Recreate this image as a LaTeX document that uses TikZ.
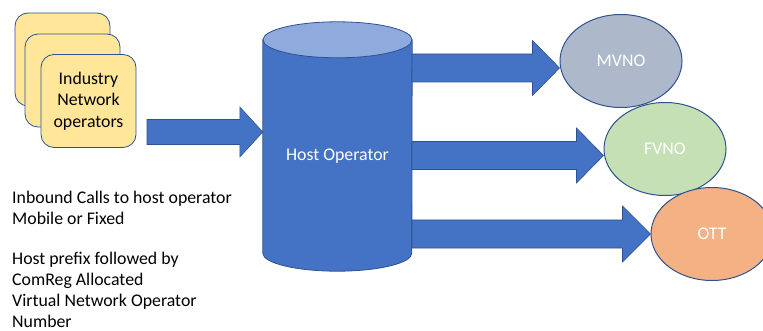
\documentclass[tikz,border=0pt]{standalone}
\usepackage{fontspec}
\setmainfont{Carlito}
\usetikzlibrary{calc,shapes.geometric}

% block arrow: from, to, body half height, head half height, head length
\newcommand{\blockarrow}[5]{%
  \filldraw[barrow] let \p1=(#1), \p2=(#2) in
    (\x1,\y1+#3) -- (\x2-#5,\y1+#3) -- (\x2-#5,\y1+#4) -- (\x2,\y1)
    -- (\x2-#5,\y1-#4) -- (\x2-#5,\y1-#3) -- (\x1,\y1-#3) -- cycle;}

\begin{document}
\begin{tikzpicture}[x=1pt, y=-1pt, every node/.style={font=\fontsize{17.8}{21.5}\selectfont}]
  % -----------------------------
  % SETTINGS
  % -----------------------------
  \def\rx{74.5pt}   % cylinder end radius x
  \def\ry{18pt}     % cylinder end radius y

  % -----------------------------
  % STYLES
  % -----------------------------
  \definecolor{opblue}{HTML}{4472C4}
  \definecolor{opedge}{HTML}{2F528F}
  \definecolor{optop}{HTML}{8FAADC}
  \definecolor{cardfill}{HTML}{FFE699}
  \definecolor{mvnofill}{HTML}{ADB9CA}
  \definecolor{fvnofill}{HTML}{C5E0B4}
  \definecolor{ottfill}{HTML}{F4B183}
  \tikzset{
    card/.style={rectangle, rounded corners=13pt, draw=opedge, fill=cardfill, line width=0.8pt,
      minimum width=95pt, minimum height=93pt, inner sep=0pt, align=center},
    hostbody/.style={fill=opblue, draw=opedge, line width=0.8pt},
    hosttop/.style={fill=optop, draw=opedge, line width=0.8pt},
    vno/.style={ellipse, draw=opedge, line width=1pt, minimum width=122pt, minimum height=93pt,
      inner sep=0pt, text=white},
    barrow/.style={fill=opblue, draw=opedge, line width=0.6pt},
    note/.style={anchor=north west, align=left, inner sep=0pt},
  }

  \useasboundingbox (0,0) rectangle (763,331);

  % -----------------------------
  % INDUSTRY OPERATORS (stacked cards)
  % -----------------------------
  \node[card] (card3) at (62.5,59.5) {};
  \node[card] (card2) at (72.5,80.5) {};
  \node[card] (card1) at (88.5,101) {Industry\\Network\\operators};

  % -----------------------------
  % HOST OPERATOR (cylinder)
  % -----------------------------
  \node[minimum width=149pt, minimum height=213pt, inner sep=0pt] (host) at (337.5,146.5) {};
  \filldraw[hostbody] (host.north west) -- (host.south west)
    arc[start angle=180, end angle=360, x radius=\rx, y radius=\ry] -- (host.north east) -- cycle;
  \filldraw[hosttop] (host.north) ellipse[x radius=\rx, y radius=\ry];
  \node[text=white] (hostlabel) at (337.5,156) {Host Operator};

  % -----------------------------
  % VIRTUAL OPERATORS
  % -----------------------------
  \node[vno, fill=mvnofill] (mvno) at (621,61) {MVNO};
  \node[vno, fill=fvnofill] (fvno) at (665,149) {FVNO};
  \node[vno, fill=ottfill] (ott) at (712,234) {OTT};

  % -----------------------------
  % BLOCK ARROWS
  % -----------------------------
  \coordinate (in) at (147,132);
  \coordinate (outA) at (412,68);
  \coordinate (outB) at (412,155.5);
  \coordinate (outC) at (412,234);
  \blockarrow{in}{host.west}{12.5pt}{25pt}{23pt}
  \blockarrow{outA}{mvno.west}{14pt}{27.5pt}{27pt}
  \blockarrow{outB}{fvno.west}{14pt}{27.5pt}{27pt}
  \blockarrow{outC}{ott.west}{14pt}{28pt}{28pt}

  % -----------------------------
  % NOTES
  % -----------------------------
  \node[note] (calls) at (12,190.5) {Inbound Calls to host operator\\Mobile or Fixed};
  \node[note, font=\fontsize{17.8}{21}\selectfont] (prefix) at (12,252) {Host prefix followed by\\ComReg Allocated\\Virtual Network Operator\\Number};
\end{tikzpicture}
\end{document}
